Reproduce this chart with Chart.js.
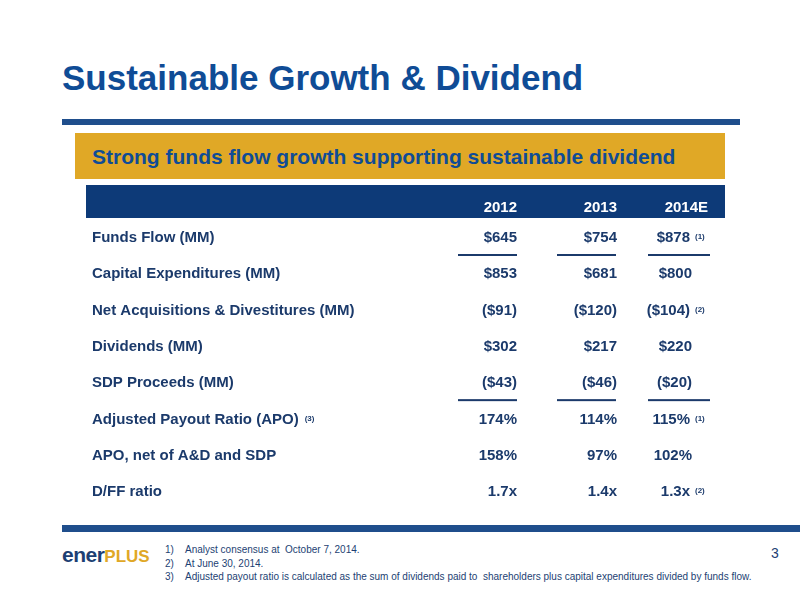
<!DOCTYPE html>
<html><head><meta charset="utf-8">
<script src="https://cdn.jsdelivr.net/npm/chart.js"></script>
<style>
body{margin:0;width:800px;height:600px;background:#fff;font-family:"Liberation Sans",Arial,sans-serif;position:relative;overflow:hidden}
.a{position:absolute}
</style></head><body>
<div class="a" style="left:62px;top:58px;font-size:35px;font-weight:bold;color:#0f4c96;letter-spacing:0px">Sustainable Growth &amp; Dividend</div>
<div class="a" style="left:62px;top:119px;width:678px;height:6px;background:#1f4e8c"></div>
<div class="a" style="left:75px;top:133px;width:650px;height:46px;background:#e0a826"></div>
<div class="a" style="left:92px;top:145px;font-size:21px;font-weight:bold;color:#0f4c96">Strong funds flow growth supporting sustainable dividend</div>
<div class="a" style="left:86px;top:185px;width:639px;height:330px"><canvas id="c" width="639" height="330"></canvas></div>
<div class="a" style="left:62px;top:525px;width:738px;height:7px;background:#1f4e8c"></div>
<div class="a" style="left:62px;top:543px;font-weight:bold;color:#1d3f73;font-size:21px;letter-spacing:-0.5px">ener<span style="color:#e0a826;font-size:17px;letter-spacing:0">PLUS</span></div>
<div class="a" style="left:165px;top:543px;font-size:10px;color:#1d3f73;line-height:13.5px">
<div>1)&nbsp;&nbsp;&nbsp;&nbsp;Analyst consensus at&nbsp; October 7, 2014.</div>
<div>2)&nbsp;&nbsp;&nbsp;&nbsp;At June 30, 2014.</div>
<div>3)&nbsp;&nbsp;&nbsp;&nbsp;Adjusted payout ratio is calculated as the sum of dividends paid to&nbsp; shareholders plus capital expenditures divided by funds flow.</div></div>
<div class="a" style="left:771px;top:545px;font-size:14px;color:#1d3f73">3</div>
<script>
const years = ['2012','2013','2014E'];
const rows = ['Funds Flow (MM)','Capital Expenditures (MM)','Net Acquisitions & Divestitures (MM)','Dividends (MM)','SDP Proceeds (MM)','Adjusted Payout Ratio (APO)','APO, net of A&D and SDP','D/FF ratio'];
const rowNotes = ['','','','','','(3)','',''];
const v2012 = ['$645','$853','($91)','$302','($43)','174%','158%','1.7x'];
const v2013 = ['$754','$681','($120)','$217','($46)','114%','97%','1.4x'];
const v2014 = ['$878','$800','($104)','$220','($20)','115%','102%','1.3x'];
const notes2014 = ['(1)','','(2)','','','(1)','','(2)'];
const underlineAfter = [0,4];
const cols=[v2012,v2013,v2014];
const navy='#1b3a6b';
const tablePlugin={id:'tbl',afterDraw(ch){
 const c=ch.ctx,x=ch.scales.x,y=ch.scales.y;
 c.save();
 c.fillStyle='#0d3a78';c.fillRect(0,0,639,33);
 c.font='bold 15px "Liberation Sans",Arial';c.textBaseline='middle';
 c.fillStyle='#fff';c.textAlign='right';
 const hOff=[0,0,-9],vOff=[0,0,-25];
 years.forEach((yr,i)=>c.fillText(yr,x.getPixelForValue(i)+hOff[i],23));
 rows.forEach((r,j)=>{
  const py=y.getPixelForValue(j);
  c.fillStyle=navy;c.textAlign='left';c.font='bold 15px "Liberation Sans",Arial';
  c.fillText(r,6,py);
  if(rowNotes[j]){const w=c.measureText(r).width;c.font='bold 8px "Liberation Sans",Arial';c.fillText(rowNotes[j],12+w,py-1);}
  cols.forEach((col,i)=>{
   c.font='bold 15px "Liberation Sans",Arial';c.textAlign='right';
   let px=x.getPixelForValue(i)+vOff[i];
   if(i===2&&notes2014[j]){px=x.getPixelForValue(i)-27;c.fillText(col[j],px,py);c.font='bold 8px "Liberation Sans",Arial';c.textAlign='left';c.fillText(notes2014[j],px+5,py-1);}
   else c.fillText(col[j],px,py);
  });
  if(underlineAfter.includes(j)){
   c.fillStyle=navy;
   [[-59,0],[-60,0],[-45,17]].forEach((s,i)=>{const px=x.getPixelForValue(i)+hOff[i];c.fillRect(px+s[0]-(i==2?15:0),py+16,59+(i==2?3:0),2);});
  }
 });
 c.restore();
}};
new Chart(document.getElementById('c'),{type:'scatter',data:{datasets:[{data:[],pointRadius:0}]},
options:{responsive:false,animation:false,events:[],layout:{padding:{left:431,right:8,top:53,bottom:23}},
plugins:{legend:{display:false},tooltip:{enabled:false}},
scales:{x:{type:'category',labels:years,offset:false,display:false},y:{type:'category',labels:rows,offset:false,display:false}}},
plugins:[tablePlugin]});
</script></body></html>
